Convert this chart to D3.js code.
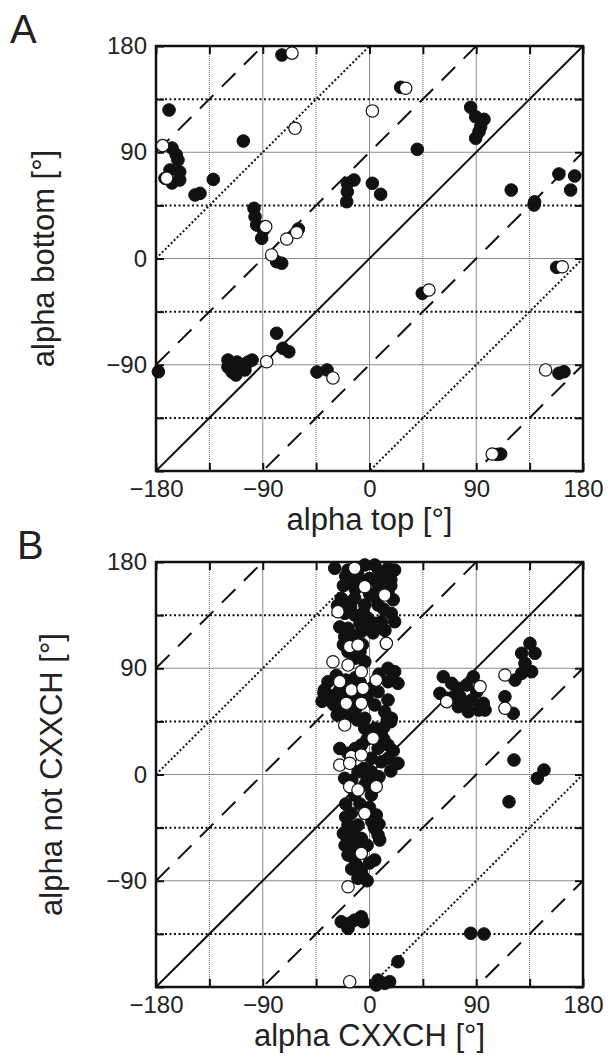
<!DOCTYPE html>
<html>
<head>
<meta charset="utf-8">
<script src="https://cdn.jsdelivr.net/npm/d3@7"></script>
<style>
  body { margin: 0; background: #fff; }
  svg text { font-family: "Liberation Sans", Arial, Helvetica, sans-serif; fill: #222; }
</style>
</head>
<body>
<svg id="chart"></svg>
<script>
// tick values (degrees)
const xLabelTicks = [-180, -90, 0, 90, 180];
const yLabelTicks = [-90, 0, 90, 180];
const allTicks = [-180, -135, -90, -45, 0, 45, 90, 135, 180];
const gridSolid = [-90, 0, 90];
const gridDotted = [-135, -45, 45, 135];

// diagonal offsets y = x + offset
const diagSolid = [0];
const diagDashed = [90, -90, 270, -270];
const diagDotted = [180, -180];

// panel A: alpha top vs alpha bottom
const aFilled = [
  [-73.8,172.4],[-169,125.8],[-166.5,93.6],[-161.5,83.4],[-163,88],[-168.2,75],[-160,73.3],[-172.4,68],[-160,66.5],[-166.5,64],
  [-131.7,67],[-147.1,53.8],[-142.9,55.2],[-106.4,99.5],
  [-97.4,42.5],[-96.5,35.4],[-95.1,28.4],[-89.5,24.1],[-90.9,17.1],[-60,25],
  [-78.3,-2.7],[-74,-4],[-78.3,-63.3],[-73,-76],[-68,-79],
  [-119.3,-86],[-115.9,-90.2],[-111.7,-87.7],[-107.5,-90.2],[-102.4,-87.7],[-99,-86],[-115.9,-96.1],[-119.3,-91.9],[-112.6,-98.7],[-105,-94.4],
  [-178,-95.9],[-44.3,-96.1],[-35.8,-94.4],[44.5,-29.5],[157.8,-7.5],[159.7,-97.2],[164,-95.9],[110.6,-165.6],[107.7,-166],
  [26.3,145],[40.3,92.5],[-18.7,63.7],[-13.1,66.5],[-18.7,56.6],[-19.2,48.1],[2.4,63.7],[9.4,54.4],
  [85.3,128.1],[89.5,120.1],[96.5,117.9],[93.7,111.6],[89.5,101.8],[92.3,107.4],
  [119.5,58],[138.7,45.3],[139.2,48],[159.7,71.6],[173,69.9],[169.6,58]
];
const aOpen = [
  [-65.3,174],[-174.4,95.6],[-171,68],[-62.8,110.3],[-87.5,27],[-69.8,16.5],[-61.4,22],[-82.5,3],
  [-86.7,-87.4],[50.1,-26.7],[-30.8,-101.2],[148.5,-94.4],[162.5,-7],[103.5,-165.6],[30.5,144.2],[2.4,125]
];

// panel B: alpha CXXCH vs alpha not CXXCH
const bFilled = [
  [-29.3,174.7],[-18.1,173.2],[-4,177.5],[4.4,177.5],[15.6,174.7],[21.2,173.2],
  [-15.3,164.8],[7.2,160.5],[15.6,154.8],[-23.8,149.3],[-12.5,149.3],[-4,143.6],[7.2,143.6],
  [18.4,136.5],[21.2,129.4],[10,129.4],[-1.3,132.3],[-12.5,135.1],[-20.9,136.5],
  [-18.1,123.8],[-6.9,121],[-20.9,116.7],[-12.5,112.5],[-18.1,104],[-12.5,98.4],[-4,95.5],
  [15.6,90],[21.2,87.1],[-35,78.6],[-38.1,71.6],[1.5,73],[15.6,78.6],[24,77.2],[-29.3,67.3],[-12.5,67.3],[7.2,70.1],
  [-8,162],[0,166],[11,167],[-22,160],[-27,143],[0,153],[-8,128],[3,120],[-25,125],[12,140],[20,148],[-16,142],[-6,110],
  [-20,168],[8,172],[-10,170],[18,165],[-12,157],[5,150],[18,160],[-18,145],[-5,137],[13,122],[5,128],[-3,125],[-15,118],[-22,110],[-8,104],
  [-32.2,61.7],[-12.5,53.2],[4.4,58.9],[12.8,53.2],[15.6,63.1],[18.4,47.6],[-4,47.6],[-4,39.1],[4.4,39.1],[10,33.5],
  [-6.9,25],[7.2,22.2],[15.6,25],[-18.1,18],[1.5,13.7],[10,10.8],[15.6,13.7],[1.5,2.4],[-9.7,2.4],[24,9.5],
  [-20.9,-3.2],[-4,-8.9],[-12.5,-17.4],[1.5,-17.4],[-15.3,-32.9],[5.7,-34.3],[-18.1,-42.8],[-9.7,-42.8],[4.4,-45.6],[7.2,-51.3],[-12.5,-51.3],
  [-38.4,68.9],[-30,59],[-27.2,50.4],[-18.7,48.9],[-10.3,46.2],[15,46.2],[17.9,44.7],
  [-25,72],[-20,80],[-8,78],[8,85],[-2,65],[-2,30],[12,40],[-12,22],[-5,5],[8,-2],[-8,-25],[0,-28],[-20,-25],[8,-42],
  [-35,64],[-25,55],[-22,66],[-12,82],[-28,84],[-40,62],[-10,58],[-25,22],[20,20],[18,3],[-15,-5],[-2,-4],[12,30],
  [-18.1,-55.5],[-6.9,-54.1],[8.6,-55.5],[-18.1,-68.2],[4.4,-72.4],[-11.1,-76.7],[-6.9,-82.3],[-9.7,-87.9],[-5.5,-86.6],[-20.6,-60],[-12,-62],[-14,-70],
  [-22,-50],[-2,-60],[0,-75],[-15,-80],[-2,-90],[-20,-36],[2,-40],
  [-23.8,-124.7],[-16.7,-126],[-12.5,-123.3],[-6.9,-120.5],[-18.1,-130.3],[-5.5,-124.7],
  [7.2,-174.1],[12.8,-176.9],[17,-175.5],[5.7,-178.3],[24,-158.6],
  [117.6,-23.1],[85.3,-134.5],[96.5,-135.1],[121.8,12.3],[141.5,-3.2],[147.1,3.8],
  [135.3,111.1],[128.3,102.7],[139.5,102.7],[131.1,94.2],[136.7,87.1],[128.3,85.7],[122.7,80],
  [62.2,82.8],[69.3,77.2],[59.4,68.8],[65.1,64.5],[74.9,73],[81.9,75.8],[87.5,82.8],[76.3,65.9],[86.2,63.1],[83.3,53.2],
  [95.9,60.3],[97.4,54.6],[74.9,57.4],[90.4,70.1],[80.5,59],[72,67],[92,54.6],
  [114.2,65.9],[121.2,51.8]
];
const bOpen = [
  [-12.5,174.7],[-4,159.1],[12.8,152],[-26.6,137.9],[14.2,111.1],[-16.7,108.3],[-9.7,109.7],[-30.8,95.5],
  [-18.1,92.7],[-6.9,87.1],[5.7,80],[-25.1,78.6],[-15.3,71.6],[-5.5,73],[-19.6,60.3],[-6.9,60.3],
  [-20.9,41.9],[3,30.7],[-15.3,15.1],[-6.9,16.5],[-25.1,8],[-16.7,9.5],[-16.7,-10.3],[-9.7,-13.1],
  [5.7,-10.3],[-4,-32.9],[-6.9,-66.8],[-18.1,-95.1],[-16.7,-175.5],
  [114.2,84.3],[93.2,74.4],[65.1,61.7],[114.2,56.1]
];

const width = 608, height = 1059;
const svg = d3.select('#chart').attr('width', width).attr('height', height);

const left = 156, right = 583;

function drawPanel(id, top, bottom, letter, letterX, xTitle, yTitle, yTitleX, filled, open) {
  const x = d3.scaleLinear().domain([-180, 180]).range([left, right]);
  const y = d3.scaleLinear().domain([-180, 180]).range([bottom, top]);
  const g = svg.append('g');

  g.append('clipPath').attr('id', 'clip' + id)
    .append('rect').attr('x', left).attr('y', top)
    .attr('width', right - left).attr('height', bottom - top);

  const grid = g.append('g');
  grid.selectAll('.vs').data(gridSolid).enter().append('line')
    .attr('x1', d => x(d)).attr('x2', d => x(d)).attr('y1', top).attr('y2', bottom)
    .attr('stroke', '#8a8a8a').attr('stroke-width', 1);
  grid.selectAll('.hs').data(gridSolid).enter().append('line')
    .attr('y1', d => y(d)).attr('y2', d => y(d)).attr('x1', left).attr('x2', right)
    .attr('stroke', '#8a8a8a').attr('stroke-width', 1);
  grid.selectAll('.vd').data(gridDotted).enter().append('line')
    .attr('x1', d => x(d)).attr('x2', d => x(d)).attr('y1', top).attr('y2', bottom)
    .attr('stroke', '#666').attr('stroke-width', 1).attr('stroke-dasharray', '1,1');
  grid.selectAll('.hd').data(gridDotted).enter().append('line')
    .attr('y1', d => y(d)).attr('y2', d => y(d)).attr('x1', left).attr('x2', right)
    .attr('stroke', '#111').attr('stroke-width', 2).attr('stroke-dasharray', '2,2.5');

  const diag = g.append('g').attr('clip-path', `url(#clip${id})`);
  const addDiag = (offsets, dash, w) => {
    diag.selectAll(null).data(offsets).enter().append('line')
      .attr('x1', x(-180)).attr('x2', x(180))
      .attr('y1', d => y(-180 + d)).attr('y2', d => y(180 + d))
      .attr('stroke', '#111').attr('stroke-width', w)
      .attr('stroke-dasharray', dash);
  };
  addDiag(diagSolid, null, 2);
  addDiag(diagDashed, '19,12', 2);
  addDiag(diagDotted, '2,2.2', 2);

  // axes (inward ticks every 45, labels every 90)
  const fmt = list => d => list.includes(d) ? (d < 0 ? '\u2212' + Math.abs(d) : d) : '';
  const styleAxis = sel => {
    sel.select('.domain').remove();
    sel.selectAll('.tick line').attr('stroke', '#111').attr('stroke-width', 2);
    sel.selectAll('.tick text').attr('font-size', 24).attr('fill', '#222');
  };
  g.append('g').attr('transform', `translate(0,${bottom})`)
    .call(d3.axisBottom(x).tickValues(allTicks).tickSizeInner(-8).tickSizeOuter(0).tickPadding(9).tickFormat(fmt(xLabelTicks)))
    .call(styleAxis);
  g.append('g').attr('transform', `translate(${left},0)`)
    .call(d3.axisLeft(y).tickValues(allTicks).tickSizeInner(-8).tickSizeOuter(0).tickPadding(9).tickFormat(fmt(yLabelTicks)))
    .call(styleAxis);
  g.append('g').attr('transform', `translate(0,${top})`)
    .call(d3.axisTop(x).tickValues(allTicks).tickSizeInner(-8).tickSizeOuter(0).tickFormat(''))
    .call(styleAxis);
  g.append('g').attr('transform', `translate(${right},0)`)
    .call(d3.axisRight(y).tickValues(allTicks).tickSizeInner(-8).tickSizeOuter(0).tickFormat(''))
    .call(styleAxis);

  g.append('rect').attr('x', left).attr('y', top)
    .attr('width', right - left).attr('height', bottom - top)
    .attr('fill', 'none').attr('stroke', '#111').attr('stroke-width', 2.5);

  // points
  g.append('g').selectAll('circle').data(filled).enter().append('circle')
    .attr('cx', d => x(d[0])).attr('cy', d => y(d[1])).attr('r', 6.3)
    .attr('fill', '#111').attr('stroke', '#111').attr('stroke-width', 1);
  g.append('g').selectAll('circle').data(open).enter().append('circle')
    .attr('cx', d => x(d[0])).attr('cy', d => y(d[1])).attr('r', 6.2)
    .attr('fill', '#fff').attr('stroke', '#111').attr('stroke-width', 1.2);

  // titles
  g.append('text').attr('x', (left + right) / 2).attr('y', bottom + 59)
    .attr('text-anchor', 'middle').attr('font-size', 31).text(xTitle);
  g.append('text')
    .attr('transform', `translate(${yTitleX},${(top + bottom) / 2}) rotate(-90)`)
    .attr('text-anchor', 'middle').attr('font-size', 31).text(yTitle);
  g.append('text').attr('x', letterX).attr('y', top - 3)
    .attr('font-size', 40).text(letter);
}

drawPanel('A', 46, 471, 'A', 10, 'alpha top [\u00b0]', 'alpha bottom [\u00b0]', 54, aFilled, aOpen);
drawPanel('B', 562, 987, 'B', 17, 'alpha CXXCH [\u00b0]', 'alpha not CXXCH [\u00b0]', 62, bFilled, bOpen);
</script>
</body>
</html>
